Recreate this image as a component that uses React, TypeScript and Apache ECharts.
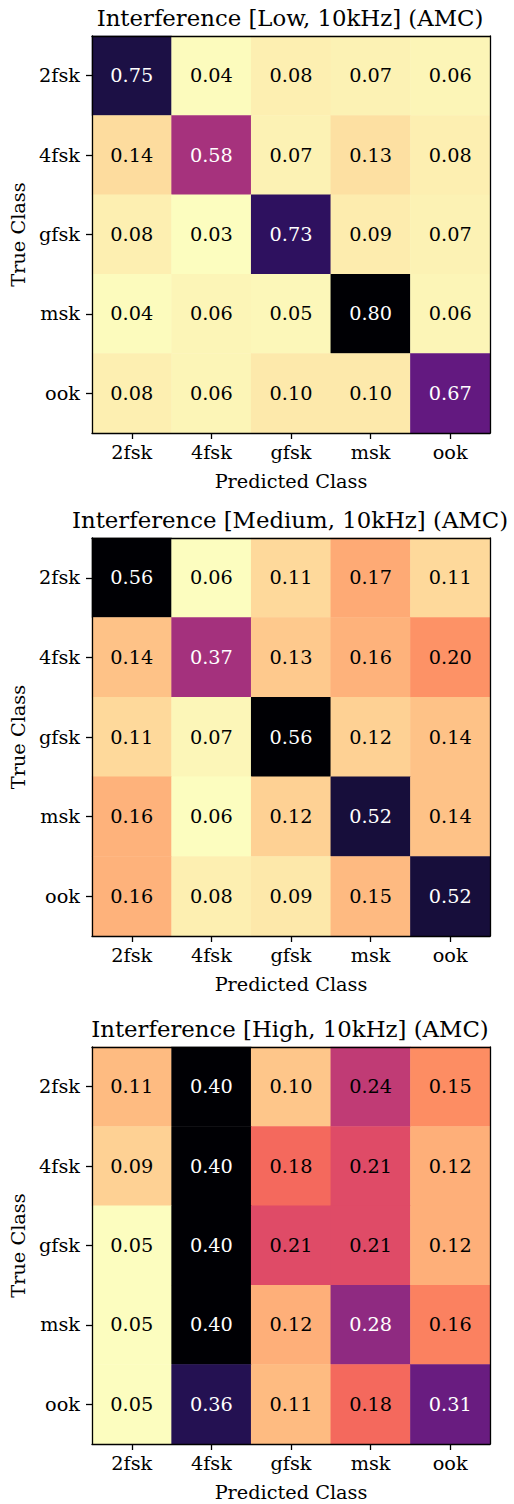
import React, { useEffect, useRef } from "react";
import * as echarts from "echarts";

// Class labels shared by both axes
const classes = ["2fsk", "4fsk", "gfsk", "msk", "ook"];

// Row = true class, column = predicted class
const lowMatrix = [
  [0.75, 0.04, 0.08, 0.07, 0.06],
  [0.14, 0.58, 0.07, 0.13, 0.08],
  [0.08, 0.03, 0.73, 0.09, 0.07],
  [0.04, 0.06, 0.05, 0.8, 0.06],
  [0.08, 0.06, 0.1, 0.1, 0.67],
];

const mediumMatrix = [
  [0.56, 0.06, 0.11, 0.17, 0.11],
  [0.14, 0.37, 0.13, 0.16, 0.2],
  [0.11, 0.07, 0.56, 0.12, 0.14],
  [0.16, 0.06, 0.12, 0.52, 0.14],
  [0.16, 0.08, 0.09, 0.15, 0.52],
];

const highMatrix = [
  [0.11, 0.4, 0.1, 0.24, 0.15],
  [0.09, 0.4, 0.18, 0.21, 0.12],
  [0.05, 0.4, 0.21, 0.21, 0.12],
  [0.05, 0.4, 0.12, 0.28, 0.16],
  [0.05, 0.36, 0.11, 0.18, 0.31],
];

const panelTitles = [
  "Interference [Low, 10kHz] (AMC)",
  "Interference [Medium, 10kHz] (AMC)",
  "Interference [High, 10kHz] (AMC)",
];

const matrices = [lowMatrix, mediumMatrix, highMatrix];

// magma colormap anchors (t = 0 … 1 in steps of 0.05)
const magma = [
  "#000004", "#07061c", "#140e36", "#251255", "#3b0f70", "#51127c", "#641a80",
  "#782281", "#8c2981", "#a1307e", "#b73779", "#ca3e72", "#de4968", "#ee5b5e",
  "#f7705c", "#fc8961", "#fe9f6d", "#feb87f", "#fecf92", "#fde7a9", "#fcfdbf",
];

function hexToRgb(h: string) {
  return [parseInt(h.slice(1, 3), 16), parseInt(h.slice(3, 5), 16), parseInt(h.slice(5, 7), 16)];
}

function magmaAt(t: number) {
  const c = Math.max(0, Math.min(1, t)) * (magma.length - 1);
  const i = Math.min(magma.length - 2, Math.floor(c));
  const f = c - i;
  const a = hexToRgb(magma[i]);
  const b = hexToRgb(magma[i + 1]);
  const m = a.map((v, k) => Math.round(v + (b[k] - v) * f));
  return `rgb(${m[0]},${m[1]},${m[2]})`;
}

// contrast curve applied to the normalised value before colour lookup
function curve(s: number, w: number) {
  return w * s + (1 - w) * s * s * s;
}

// reversed magma ramp, sampled evenly over the value range
function rampFor(w: number) {
  const n = 64;
  const out: string[] = [];
  for (let i = 0; i <= n; i++) out.push(magmaAt(1 - curve(i / n, w)));
  return out;
}

const curveWeights = [0.5, 0.8, 0.83];

const FONT = "DejaVu Serif";
const LABEL_SIZE = 19.3;
const TITLE_SIZE = 22.8;
const gridTops = [36, 538, 1047];
const gridHeights = [397, 398, 397];
const GRID_LEFT = 92;
const GRID_WIDTH = 398;

export default function App() {
  const ref = useRef<HTMLDivElement>(null);

  useEffect(() => {
    document.body.style.margin = "0";
    if (!ref.current) return;
    const chart = echarts.init(ref.current, undefined, { renderer: "svg" });

    const grid: any[] = [];
    const xAxis: any[] = [];
    const yAxis: any[] = [];
    const series: any[] = [];
    const visualMap: any[] = [];
    const title: any[] = [];

    matrices.forEach((mat, p) => {
      const flat = mat.flat();
      const vmin = Math.min(...flat);
      const vmax = Math.max(...flat);
      grid.push({
        left: GRID_LEFT,
        top: gridTops[p],
        width: GRID_WIDTH,
        height: gridHeights[p],
      });
      title.push({
        text: panelTitles[p],
        left: GRID_LEFT + GRID_WIDTH / 2 - 6,
        textAlign: "center",
        top: gridTops[p] - 35,
        textStyle: { fontFamily: FONT, fontSize: TITLE_SIZE, fontWeight: "normal", color: "#000" },
      });
      const lineStyle = { color: "#000", width: 1.3 };
      // bottom axis with labels
      xAxis.push({
        type: "category",
        gridIndex: p,
        data: classes,
        position: "bottom",
        z: 10,
        axisLine: { show: true, lineStyle },
        axisTick: { show: true, alignWithLabel: true, length: 6, lineStyle },
        axisLabel: { fontFamily: FONT, fontSize: LABEL_SIZE, color: "#000", margin: 10 },
        name: "Predicted Class",
        nameLocation: "middle",
        nameGap: 39,
        nameTextStyle: { fontFamily: FONT, fontSize: LABEL_SIZE, color: "#000" },
        splitLine: { show: false },
      });
      // top frame line
      xAxis.push({
        type: "category",
        gridIndex: p,
        data: classes,
        position: "top",
        z: 10,
        axisLine: { show: true, lineStyle },
        axisTick: { show: false },
        axisLabel: { show: false },
        splitLine: { show: false },
      });
      yAxis.push({
        type: "category",
        gridIndex: p,
        data: classes,
        inverse: true,
        position: "left",
        z: 10,
        axisLine: { show: true, lineStyle },
        axisTick: { show: true, alignWithLabel: true, length: 6, lineStyle },
        axisLabel: { fontFamily: FONT, fontSize: LABEL_SIZE, color: "#000", margin: 12 },
        name: "True Class",
        nameLocation: "middle",
        nameGap: 63,
        nameRotate: 90,
        nameTextStyle: { fontFamily: FONT, fontSize: LABEL_SIZE, color: "#000" },
        splitLine: { show: false },
      });
      // right frame line
      yAxis.push({
        type: "category",
        gridIndex: p,
        data: classes,
        inverse: true,
        position: "right",
        z: 10,
        axisLine: { show: true, lineStyle },
        axisTick: { show: false },
        axisLabel: { show: false },
        splitLine: { show: false },
      });

      const w = curveWeights[p];
      const data: any[] = [];
      mat.forEach((row, r) => {
        row.forEach((v, c) => {
          const s = (v - vmin) / (vmax - vmin);
          const dark = curve(s, w) > 0.5;
          data.push({
            value: [c, r, v],
            label: { color: dark ? "#fff" : "#000" },
          });
        });
      });

      visualMap.push({
        type: "continuous",
        show: false,
        seriesIndex: p,
        dimension: 2,
        min: vmin,
        max: vmax,
        inRange: { color: rampFor(w) },
      });

      series.push({
        type: "heatmap",
        xAxisIndex: p * 2,
        yAxisIndex: p * 2,
        data,
        z: 2,
        itemStyle: { borderWidth: 0 },
        emphasis: { disabled: true },
        label: {
          show: true,
          fontFamily: FONT,
          fontSize: LABEL_SIZE,
          formatter: (d: any) => d.value[2].toFixed(2),
        },
      });
    });

    chart.setOption({
      animation: false,
      backgroundColor: "#fff",
      title,
      grid,
      xAxis,
      yAxis,
      visualMap,
      series,
    });

    return () => chart.dispose();
  }, []);

  return <div ref={ref} style={{ width: 514, height: 1504 }} />;
}
